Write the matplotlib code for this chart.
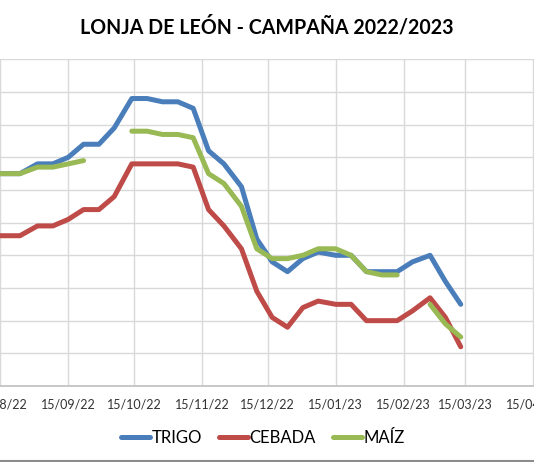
import numpy as np
import matplotlib
matplotlib.use("Agg")
import matplotlib.pyplot as plt
import matplotlib.dates as mdates
from matplotlib.lines import Line2D
from datetime import date

plt.rcParams['font.family'] = ['Lato', 'DejaVu Sans']

# session dates (roughly weekly)
fechas = ["2022-08-10", "2022-08-17", "2022-08-24", "2022-09-01", "2022-09-08",
          "2022-09-15", "2022-09-22", "2022-09-29", "2022-10-06", "2022-10-14",
          "2022-10-21", "2022-10-28", "2022-11-04", "2022-11-11", "2022-11-18",
          "2022-11-25", "2022-12-03", "2022-12-10", "2022-12-17", "2022-12-24",
          "2022-12-31", "2023-01-07", "2023-01-15", "2023-01-22", "2023-01-29",
          "2023-02-05", "2023-02-12", "2023-02-19", "2023-02-27", "2023-03-06",
          "2023-03-13"]

nan = np.nan
trigo = [325, 325, 325, 328, 328, 330, 334, 334, 339, 348, 348, 347, 347, 345, 332,
         328, 321, 305, 298, 295, 299, 301, 300, 300, 295, 295, 295, 298, 300, 292, 285]
cebada = [306, 306, 306, 309, 309, 311, 314, 314, 318, 328, 328, 328, 328, 327, 314,
          309, 302, 289, 281, 278, 284, 286, 285, 285, 280, 280, 280, 283, 287, 281, 272]
maiz = [325, 325, 325, 327, 327, 328, 329, nan, nan, 338, 338, 337, 337, 336, 325,
        322, 315, 302, 299, 299, 300, 302, 302, 300, 295, 294, 294, nan, 285, 279, 275]

series = [("TRIGO", trigo, "#4A7EBB"), ("CEBADA", cebada, "#BE4B48"), ("MAÍZ", maiz, "#98B954")]

x = mdates.date2num([date.fromisoformat(f) for f in fechas])

fig = plt.figure(figsize=(5.34, 4.62), dpi=100)
ax = fig.add_axes([0, 0.1645, 1, 0.7071])

for name, vals, col in series:
    ax.plot(x, np.array(vals, dtype=float), color=col, lw=3.6, label=name,
            solid_capstyle='round', solid_joinstyle='round')

ref = mdates.date2num(date(2022, 9, 15))
ax.set_xlim(ref - 31.1, ref + 212.4)
ax.set_ylim(260, 360)
ax.set_yticks(np.arange(260, 361, 10))
ax.xaxis.set_major_locator(mdates.MonthLocator(bymonthday=15))
ax.xaxis.set_major_formatter(mdates.DateFormatter('%d/%m/%y'))
ax.grid(True, color='#D9D9D9', lw=1.0)
ax.set_axisbelow(True)
for s in ['left', 'right', 'top']:
    ax.spines[s].set_visible(False)
ax.spines['bottom'].set_color('#BFBFBF')
ax.spines['bottom'].set_linewidth(1.2)
ax.tick_params(axis='y', length=0, labelleft=False)
ax.tick_params(axis='x', length=0, pad=9, labelsize=9, labelcolor='#333333')

fig.text(0.5, 0.942, "LONJA DE LEÓN - CAMPAÑA 2022/2023", ha='center', va='center',
         fontsize=14.1, fontweight='bold', color='black')

fig.legend(loc='center', bbox_to_anchor=(0.492, 0.053), ncol=3, frameon=False,
           fontsize=12, handlelength=1.75, handletextpad=0.1, columnspacing=1.0)

fig.add_artist(Line2D([0, 1], [0.002, 0.002], color='#8C8C8C', lw=1.5))

fig.savefig("out.png", dpi=100)
